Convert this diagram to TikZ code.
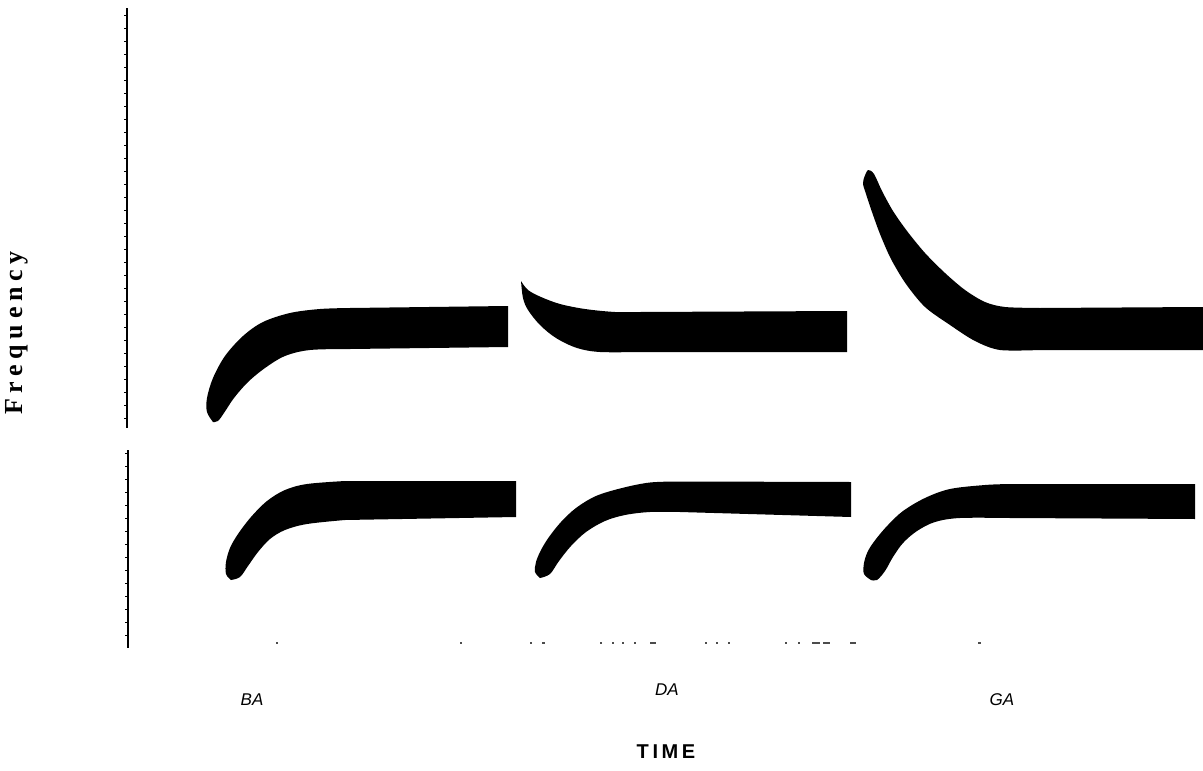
\documentclass[tikz,border=0pt]{standalone}
\usepackage{fontspec}
\setsansfont{Liberation Sans}
\newfontfamily\freqfont[LetterSpace=22]{Liberation Serif}
\newfontfamily\timefont[LetterSpace=18]{Liberation Sans}
\begin{document}
\begin{tikzpicture}[x=1pt,y=-1pt,
  band/.style={fill=black},
  axisline/.style={draw=black,line width=1.2pt},
  tick/.style={draw=black,line width=1pt},
  dotmark/.style={draw=black!70,line width=1.2pt},
  syl/.style={font=\sffamily\itshape\fontsize{17}{17}\selectfont},
  ]
\useasboundingbox[fill=white] (0,0) rectangle (1203,771);

% ---- axes ----
\draw[axisline] (127,8) -- (127,428);
\draw[axisline] (128,450) -- (128,648);
\foreach \y in {15,28,...,425} \draw[tick] (124,\y) -- (127,\y);
\foreach \y in {453,466,...,645} \draw[tick] (125,\y) -- (128,\y);
\foreach \xa/\xb in {276/278,460/462,530/532,542/545,600/602,612/614,622/624,634/636,650/656,705/707,716/718,728/730,785/787,798/800,812/820,823/830,850/856,978/981}
  \draw[dotmark] (\xa,643) -- (\xb,643);

% ---- BA ----
\fill[band] plot[smooth,tension=0.55] coordinates {(213,422) (207,412) (207,398) (213,378) (225,356) (243,336) (263,322) (290,313) (320,309) (350,308)}
  -- (508,306) -- (508,347) -- plot[smooth,tension=0.55] coordinates {(350,349) (310,350) (285,356) (265,368) (248,382) (234,398) (224,413) (218,421) (213,422)} -- cycle;
\fill[band] plot[smooth,tension=0.55] coordinates {(231,580) (226,574) (226,562) (230,548) (238,534) (251,517) (267,501) (285,490) (307,484) (345,481)}
  -- (516,481) -- (516,517) -- plot[smooth,tension=0.55] coordinates {(345,520) (307,524) (285,530) (270,539) (258,552) (248,566) (240,577) (231,580)} -- cycle;

% ---- DA ----
\fill[band] plot[smooth,tension=0.55] coordinates {(521,281) (528,290) (541,297) (560,304) (585,309) (615,312) (640,312)}
  -- (847,311) -- (847,352) -- plot[smooth,tension=0.55] coordinates {(640,352) (600,352) (577,348) (556,338) (540,325) (528,310) (523,298) (521,281)} -- cycle;
\fill[band] plot[smooth,tension=0.55] coordinates {(540,578) (535,572) (536,562) (541,550) (549,537) (561,522) (576,508) (596,496) (622,488) (650,482.5) (680,481.5)}
  -- (851,482) -- (851,517) -- plot[smooth,tension=0.55] coordinates {(680,512) (650,512) (625,515) (605,521) (586,532) (571,546) (559,561) (550,574) (540,578)} -- cycle;

% ---- GA ----
\fill[band] plot[smooth,tension=0.5] coordinates {(864,178) (868,170) (874,174) (882,191) (893,211) (907,231) (925,253) (945,273) (965,290) (985,302) (1005,307) (1040,308)}
  -- (1203,307) -- (1203,350) -- plot[smooth,tension=0.5] coordinates {(1040,350) (1000,350) (975,341) (950,325) (925,307) (906,284) (891,259) (880,234) (872,212) (866,194) (863,184) (864,178)} -- cycle;
\fill[band] plot[smooth,tension=0.55] coordinates {(871,580) (864,574) (864,563) (868,551) (876,539) (888,525) (903,511) (925,498) (950,489) (985,485) (1010,484)}
  -- (1195,484) -- (1195,519) -- plot[smooth,tension=0.55] coordinates {(1010,518) (960,518) (935,522) (917,531) (903,543) (893,557) (885,571) (877,580) (871,580)} -- cycle;

% ---- labels ----
\node[syl] (ba) at (252,700) {BA};
\node[syl] (da) at (667,690) {DA};
\node[syl] (ga) at (1002,700) {GA};
\node[font=\timefont\bfseries\fontsize{20}{20}\selectfont] (time) at (666,752) {TIME};
\node[rotate=90,font=\freqfont\bfseries\fontsize{26}{26}\selectfont] (freq) at (17,333) {Frequency};
\end{tikzpicture}
\end{document}
